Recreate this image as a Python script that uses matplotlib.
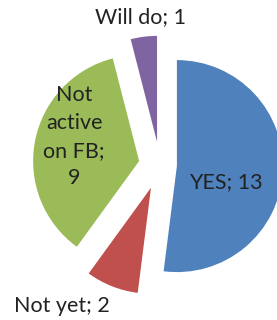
import numpy as np
import matplotlib
matplotlib.use("agg")
import matplotlib.pyplot as plt

labels = ["YES", "Not yet", "Not active\non FB", "Will do"]
values = [13, 2, 9, 1]
colors = ["#4F81BD", "#C0504D", "#9BBB59", "#8064A2"]
explode = [0.16, 0.23, 0.2, 0.22]

# label anchors (data units, pie radius = 1)
label_pos = [(0.62, -0.16), (-0.93, -1.33), (-0.81, 0.265), (-0.185, 1.40)]
label_text = ["YES; 13", "Not yet; 2", "Not\nactive\non FB;\n9", "Will do; 1"]

fig = plt.figure(figsize=(2.77, 3.2), dpi=100)
ax = fig.add_axes([0, 0, 1, 1])

ax.pie(values, colors=colors, explode=explode, startangle=90,
       counterclock=False, radius=1.0,
       wedgeprops=dict(linewidth=0))

for (x, y), txt in zip(label_pos, label_text):
    ax.text(x, y, txt, ha="center", va="center", fontsize=15.5,
            family="Lato", color="#222222", linespacing=1.48)

ax.set_aspect("auto")
ax.set_xlim(-1.509, 1.104)
ax.set_ylim(-1.462, 1.557)
ax.axis("off")

fig.savefig("out.png", dpi=100)
